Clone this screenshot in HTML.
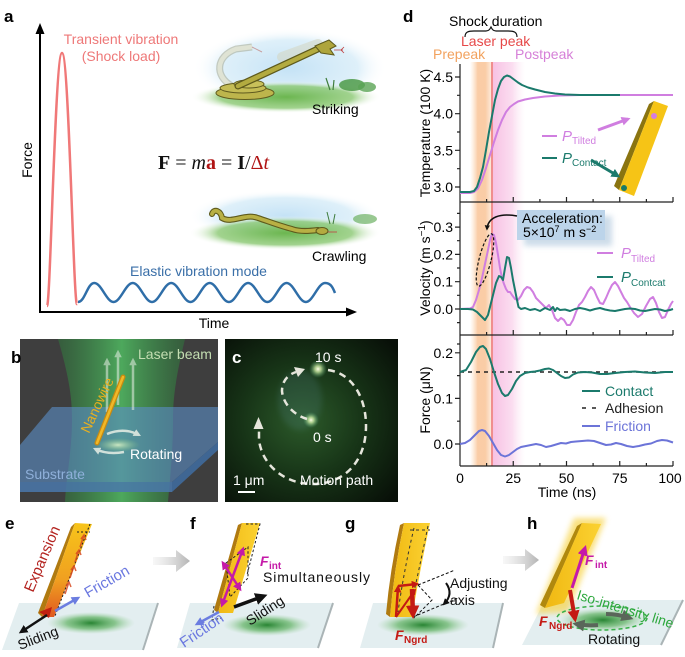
<!DOCTYPE html>
<html><head><meta charset="utf-8">
<style>
html,body{margin:0;padding:0;background:#fff;}
svg{display:block;}
text{font-family:"Liberation Sans",Arial,sans-serif;}
</style></head><body>
<svg width="685" height="657" viewBox="0 0 685 657" xmlns="http://www.w3.org/2000/svg">
<defs>
<marker id="mK" viewBox="0 0 10 10" refX="7" refY="5" markerWidth="3.5" markerHeight="3.5" orient="auto-start-reverse"><path d="M0,0 L10,5 L0,10 z" fill="#111"/></marker>
<marker id="mB" viewBox="0 0 10 10" refX="7" refY="5" markerWidth="3.5" markerHeight="3.5" orient="auto-start-reverse"><path d="M0,0 L10,5 L0,10 z" fill="#6b7de0"/></marker>
<marker id="mM" viewBox="0 0 10 10" refX="7" refY="5" markerWidth="3.5" markerHeight="3.5" orient="auto-start-reverse"><path d="M0,0 L10,5 L0,10 z" fill="#c51aa8"/></marker>
<marker id="mR" viewBox="0 0 10 10" refX="7" refY="5" markerWidth="3" markerHeight="3" orient="auto-start-reverse"><path d="M0,0 L10,5 L0,10 z" fill="#c41a14"/></marker>
<marker id="mG" viewBox="0 0 10 10" refX="7" refY="5" markerWidth="3" markerHeight="3" orient="auto-start-reverse"><path d="M0,0 L10,5 L0,10 z" fill="#5a665a"/></marker>
<marker id="mW" viewBox="0 0 10 10" refX="7" refY="5" markerWidth="3" markerHeight="3" orient="auto-start-reverse"><path d="M0,0 L10,5 L0,10 z" fill="#e8efe6"/></marker>
<marker id="mP" viewBox="0 0 10 10" refX="7" refY="5" markerWidth="3" markerHeight="3" orient="auto-start-reverse"><path d="M0,0 L10,5 L0,10 z" fill="#d07ee0"/></marker>
<marker id="mT" viewBox="0 0 10 10" refX="7" refY="5" markerWidth="3" markerHeight="3" orient="auto-start-reverse"><path d="M0,0 L10,5 L0,10 z" fill="#1b7a6c"/></marker>
<radialGradient id="gsh"><stop offset="0" stop-color="#1f7f2a" stop-opacity="0.95"/><stop offset="0.55" stop-color="#4aa84a" stop-opacity="0.6"/><stop offset="1" stop-color="#9ad09a" stop-opacity="0"/></radialGradient>
<radialGradient id="sky"><stop offset="0" stop-color="#c4e2f6" stop-opacity="1"/><stop offset="0.7" stop-color="#d6ecf8" stop-opacity="0.8"/><stop offset="1" stop-color="#ffffff" stop-opacity="0"/></radialGradient>
<radialGradient id="grd"><stop offset="0" stop-color="#6cb650" stop-opacity="1"/><stop offset="0.7" stop-color="#8ac872" stop-opacity="0.8"/><stop offset="1" stop-color="#ffffff" stop-opacity="0"/></radialGradient>
<linearGradient id="orb" x1="0" x2="1" y1="0" y2="0"><stop offset="0" stop-color="#fbd7b4" stop-opacity="0"/><stop offset="0.35" stop-color="#f9c79c" stop-opacity="0.9"/><stop offset="0.7" stop-color="#f9c79c" stop-opacity="0.9"/><stop offset="1" stop-color="#f9c79c" stop-opacity="0.3"/></linearGradient>
<linearGradient id="pkb" x1="0" x2="1" y1="0" y2="0"><stop offset="0" stop-color="#f6b6de" stop-opacity="0.85"/><stop offset="0.6" stop-color="#f8c6e6" stop-opacity="0.6"/><stop offset="1" stop-color="#fbe0f0" stop-opacity="0"/></linearGradient>
<linearGradient id="beam" x1="0" x2="1" y1="0" y2="0"><stop offset="0" stop-color="#2f7a3c" stop-opacity="0.5"/><stop offset="0.5" stop-color="#4fb460" stop-opacity="0.9"/><stop offset="1" stop-color="#2f7a3c" stop-opacity="0.5"/></linearGradient>
<radialGradient id="cbg" cx="0.45" cy="0.5" r="0.7"><stop offset="0" stop-color="#2c5a2a"/><stop offset="0.5" stop-color="#173417"/><stop offset="1" stop-color="#081008"/></radialGradient>
<radialGradient id="spot"><stop offset="0" stop-color="#ffffe8"/><stop offset="0.35" stop-color="#c8e8a0" stop-opacity="0.8"/><stop offset="1" stop-color="#4a9a6a" stop-opacity="0"/></radialGradient>
<radialGradient id="bglow"><stop offset="0" stop-color="#d8f0c8" stop-opacity="0.9"/><stop offset="1" stop-color="#80c080" stop-opacity="0"/></radialGradient>
<linearGradient id="wireE" x1="0" x2="0" y1="0" y2="1"><stop offset="0" stop-color="#f7c41a"/><stop offset="0.6" stop-color="#f0a020"/><stop offset="1" stop-color="#e05a20"/></linearGradient>
<linearGradient id="wireY" x1="0" x2="1" y1="0" y2="0"><stop offset="0" stop-color="#f0b812"/><stop offset="1" stop-color="#fbd232"/></linearGradient>
<linearGradient id="garr" x1="0" x2="1" y1="0" y2="0"><stop offset="0" stop-color="#d8d8d8" stop-opacity="0.2"/><stop offset="1" stop-color="#b4b4b4"/></linearGradient>
<filter id="blur3" x="-50%" y="-50%" width="200%" height="200%"><feGaussianBlur stdDeviation="3"/></filter>
<filter id="blur2" x="-50%" y="-50%" width="200%" height="200%"><feGaussianBlur stdDeviation="1.5"/></filter>
</defs>
<rect width="685" height="657" fill="#fff"/>

<!-- ================= Panel a ================= -->
<text x="4" y="22" font-size="17" font-weight="bold">a</text>
<ellipse cx="290" cy="68" rx="97" ry="40" fill="url(#sky)"/>
<ellipse cx="286" cy="97" rx="95" ry="16" fill="url(#grd)"/>
<ellipse cx="352" cy="85" rx="13" ry="6" fill="#4c9a48" opacity="0.85"/>
<ellipse cx="367" cy="87" rx="9" ry="5" fill="#5aa455" opacity="0.8"/>
<path d="M330 90 L326 78 M333 90 L334 80" stroke="#3f7d3c" stroke-width="1.2"/>
<path d="M282 57 L318 44" stroke="#d4d8c6" stroke-width="10" opacity="0.6" stroke-linecap="round"/>
<path d="M232 86 C 214 76, 216 56, 236 49 L252 47" stroke="#a9ae9a" stroke-width="7" fill="none" opacity="0.6"/>
<path d="M232 86 C 214 76, 216 56, 236 49 L252 47" stroke="#e2e6d6" stroke-width="4.5" fill="none" opacity="0.9"/>
<path d="M252 47 L262 52" stroke="#c8a0a0" stroke-width="1"/>
<ellipse cx="245" cy="93" rx="29" ry="6.5" fill="#bdb54c" stroke="#5f5a1e" stroke-width="1"/>
<ellipse cx="243" cy="88" rx="23" ry="5" fill="#c4bc55" stroke="#5f5a1e" stroke-width="1"/>
<ellipse cx="249" cy="84" rx="15" ry="4" fill="#c8c05a" stroke="#5f5a1e" stroke-width="1"/>
<path d="M238 86 L320 48" stroke="#5e5a1c" stroke-width="7" stroke-linecap="round"/>
<path d="M238 86 L320 48" stroke="#b3ab40" stroke-width="4.5" stroke-linecap="round"/>
<path d="M315 46 L329 40 L336 46 L330 49 L334 55 L321 53 Z" fill="#aea53c" stroke="#5e5a1c" stroke-width="1"/>
<path d="M334 50 L343 50 M341 50 L344 47 M341 50 L344 53" stroke="#c04040" stroke-width="0.8" fill="none"/>
<text x="312" y="114" font-size="14">Striking</text>
<ellipse cx="285" cy="216" rx="96" ry="26" fill="url(#sky)"/>
<ellipse cx="285" cy="233" rx="96" ry="17" fill="url(#grd)"/>
<ellipse cx="365" cy="219" rx="12" ry="5" fill="#6cb062" opacity="0.7"/>
<path d="M330 224 L327 212 M333 224 L335 214" stroke="#3f7d3c" stroke-width="1"/>
<path d="M212 214 C 214 208, 221 211, 222 218 C 232 224, 245 213, 258 218 C 270 222, 280 226, 292 229 C 300 232, 310 231, 318 230" stroke="#5e5a1c" stroke-width="6" fill="none" stroke-linecap="round"/>
<path d="M212 214 C 214 208, 221 211, 222 218 C 232 224, 245 213, 258 218 C 270 222, 280 226, 292 229 C 300 232, 310 231, 318 230" stroke="#b8b044" stroke-width="3.8" fill="none" stroke-linecap="round"/>
<ellipse cx="322" cy="231" rx="6" ry="3.5" fill="#b3ab40" stroke="#5e5a1c" stroke-width="1"/>
<path d="M328 232 L337 232" stroke="#c04040" stroke-width="0.8"/>
<text x="312" y="261" font-size="14">Crawling</text>
<text x="158" y="169" font-size="20" style="font-family:'Liberation Serif','DejaVu Serif',serif" fill="#111"><tspan font-weight="bold">F</tspan> = <tspan font-style="italic">m</tspan><tspan font-weight="bold" fill="#b01414">a</tspan> = <tspan font-weight="bold">I</tspan>/<tspan fill="#b01414">Δ</tspan><tspan font-style="italic" fill="#b01414">t</tspan></text>
<path d="M40 312 V30" stroke="#000" stroke-width="2"/>
<path d="M35.5 34 L40 23 L44.5 34 Z" fill="#000"/>
<path d="M39 312 H350" stroke="#000" stroke-width="2"/>
<path d="M346 307.5 L357 312 L346 316.5 Z" fill="#000"/>
<text transform="translate(32,160) rotate(-90)" text-anchor="middle" font-size="14">Force</text>
<text x="214" y="328" text-anchor="middle" font-size="14">Time</text>
<path d="M47 306 C 50.5 306, 55 53, 62 53 C 69 53, 73.5 306, 77 304" stroke="#f07878" stroke-width="2.5" fill="none"/>
<path d="M78 302 C 85 302, 87.3 283, 94.3 283 S 106.53 302, 113.53 302 S 125.76 283, 132.76 283 S 144.99 302, 151.99 302 S 164.22 283, 171.22 283 S 183.45 302, 190.45 302 S 202.68 283, 209.68 283 S 221.91 302, 228.91 302 S 241.14 283, 248.14 283 S 260.37 302, 267.37 302 S 279.6 283, 286.6 283 S 298.83 302, 305.83 302 S 318.06 283, 325.06 283 C 331 283, 333 288, 335 293" stroke="#2f6ea8" stroke-width="2.5" fill="none"/>
<text x="121" y="44" text-anchor="middle" font-size="14" fill="#ee7878">Transient vibration</text>
<text x="121" y="61" text-anchor="middle" font-size="14" fill="#ee7878">(Shock load)</text>
<text x="130" y="276" font-size="14" fill="#3a6fa8">Elastic vibration mode</text>

<!-- ================= Panel b ================= -->
<rect x="20" y="339" width="198" height="163" fill="#3e3e3e"/>
<path d="M58 339 C 70 380, 72 400, 72 420 C 72 450, 66 480, 65 502 L168 502 C 170 480, 173 450, 173 420 C 173 400, 175 380, 185 339 Z" fill="url(#beam)"/>
<polygon points="52,407 218,407 218,442 172,482 20,482 20,445" fill="#5b8cc4" opacity="0.62"/>
<polygon points="20,482 172,482 172,492 20,492" fill="#4a78ac" opacity="0.85"/>
<polygon points="172,482 218,442 218,450 172,492" fill="#3f6a9c" opacity="0.9"/>
<ellipse cx="118" cy="445" rx="22" ry="7" fill="url(#bglow)"/>
<g stroke="#e8efe6" stroke-width="2.5" opacity="0.55" fill="none">
<path d="M107 412 V360" marker-end="url(#mW)"/>
<path d="M118 405 V352" marker-end="url(#mW)"/>
<path d="M133 410 V360" marker-end="url(#mW)"/>
</g>
<path d="M123 377 L97 443" stroke="#c88a10" stroke-width="5" stroke-linecap="round"/>
<path d="M123 377 L97 443" stroke="#f0b828" stroke-width="2.5" stroke-linecap="round"/>
<path d="M107 434 Q 124 427 139 435" stroke="#e8efe6" stroke-width="2.5" fill="none" opacity="0.85" marker-end="url(#mW)"/>
<path d="M124 452 Q 108 455 95 449" stroke="#e8efe6" stroke-width="2.5" fill="none" opacity="0.85" marker-end="url(#mW)"/>
<text x="11" y="363" font-size="17" font-weight="bold">b</text>
<text x="138" y="359" font-size="14" fill="#c4deb2">Laser beam</text>
<text transform="translate(89,434) rotate(-65)" font-size="14" fill="#eab020">Nanowire</text>
<text x="130" y="459" font-size="14" fill="#ffffff">Rotating</text>
<text x="25" y="479" font-size="14" fill="#8fb0da">Substrate</text>

<!-- ================= Panel c ================= -->
<rect x="225" y="339" width="173" height="163" fill="url(#cbg)"/>
<ellipse cx="300" cy="400" rx="22" ry="30" fill="#5a8a9a" opacity="0.18" filter="url(#blur3)"/>
<circle cx="318" cy="369" r="9" fill="url(#spot)"/>
<circle cx="311" cy="420" r="8" fill="url(#spot)"/>
<g stroke="#e6e6dc" stroke-width="2.5" fill="none" stroke-dasharray="7 5">
<path d="M307 419 C 294 415, 283 404, 282 391 C 282 382, 287 375, 296 372"/>
<path d="M328 370 C 351 373, 366 396, 366 426 C 366 461, 345 483, 315 484 C 285 485, 262 465, 259 440 L 259 430"/>
</g>
<path d="M294 367 L305 369 L298 377 Z" fill="#e6e6dc"/>
<path d="M253.5 429 L258.5 417 L263.5 429 Z" fill="#e6e6dc"/>
<text x="232" y="363" font-size="17" font-weight="bold" fill="#fff">c</text>
<text x="315" y="362" font-size="14" fill="#fff">10 s</text>
<text x="313" y="442" font-size="14" fill="#fff">0 s</text>
<text x="233" y="485" font-size="14" fill="#fff">1 μm</text>
<path d="M238 492 H255" stroke="#fff" stroke-width="2"/>
<text x="300" y="485" font-size="14" fill="#fff">Motion path</text>

<!-- ================= Panel d ================= -->
<text x="403" y="22" font-size="17" font-weight="bold">d</text>
<rect x="470" y="62" width="22" height="404" fill="url(#orb)"/>
<rect x="493" y="62" width="32" height="404" fill="url(#pkb)"/>
<path d="M492 62 V466" stroke="#f08e8e" stroke-width="2"/>
<text x="449" y="26" font-size="14">Shock duration</text>
<path d="M465 37 C 465 32, 468 31, 474 31 L486 31 C 489 31, 490 29, 491 27 C 492 29, 493 31, 496 31 L508 31 C 514 31, 517 32, 517 37" stroke="#111" stroke-width="1.2" fill="none"/>
<text x="461" y="46" font-size="14" fill="#e64848">Laser peak</text>
<text x="433" y="59" font-size="14" fill="#f2a25e">Prepeak</text>
<text x="515" y="59" font-size="14" fill="#d680d8">Postpeak</text>

<g stroke="#222" stroke-width="1.2" fill="none">
<path d="M460 64 V466"/>
<path d="M460 202 H673 M460 335 H673 M460 466 H673"/>
<path d="M513.25 202 v-5 M566.5 202 v-5 M619.75 202 v-5 M673 202 v-5 M486.6 202 v-3 M539.9 202 v-3 M593.1 202 v-3 M646.4 202 v-3"/>
<path d="M513.25 335 v-5 M566.5 335 v-5 M619.75 335 v-5 M673 335 v-5 M486.6 335 v-3 M539.9 335 v-3 M593.1 335 v-3 M646.4 335 v-3"/>
<path d="M513.25 466 v-5 M566.5 466 v-5 M619.75 466 v-5 M673 466 v-5 M486.6 466 v-3 M539.9 466 v-3 M593.1 466 v-3 M646.4 466 v-3"/>
<path d="M455 77 h5 M455 113.7 h5 M455 150.3 h5 M455 187 h5 M457 95.3 h3 M457 132 h3 M457 168.7 h3"/>
<path d="M455 309 h5 M455 281.7 h5 M455 254.4 h5 M455 227.1 h5 M457 322.6 h3 M457 295.3 h3 M457 268 h3 M457 240.7 h3 M457 213.4 h3"/>
<path d="M455 444 h5 M455 398.4 h5 M455 352.8 h5 M457 421.2 h3 M457 375.6 h3 M457 344 h3"/>
</g>
<g font-size="14" text-anchor="end">
<text x="453" y="82">4.5</text><text x="453" y="118.7">4.0</text><text x="453" y="155.3">3.5</text><text x="453" y="192">3.0</text>
<text x="453" y="314">0.0</text><text x="453" y="286.7">0.1</text><text x="453" y="259.4">0.2</text><text x="453" y="232.1">0.3</text>
<text x="453" y="449">0.0</text><text x="453" y="403.4">0.1</text><text x="453" y="357.8">0.2</text>
</g>
<g font-size="14" text-anchor="middle">
<text x="460" y="483">0</text><text x="513.25" y="483">25</text><text x="566.5" y="483">50</text><text x="619.75" y="483">75</text><text x="670" y="483">100</text>
<text x="567" y="497">Time (ns)</text>
</g>
<text transform="translate(430,133) rotate(-90)" text-anchor="middle" font-size="14">Temperature (100 K)</text>
<text transform="translate(430,268) rotate(-90)" text-anchor="middle" font-size="14">Velocity (m s<tspan dy="-5" font-size="10">−1</tspan><tspan dy="5">)</tspan></text>
<text transform="translate(430,400) rotate(-90)" text-anchor="middle" font-size="14">Force (μN)</text>

<path d="M460 193 L470 193 L474 192 L478 188.5 L482 180 L486 168 L490 155 L494 142 L498 130 L502 120 L506 112 L510 107 L514 104 L518 101.5 L525 99.5 L533 98 L545 96.5 L560 95.5 L580 95 L673 95" stroke="#d07ee0" stroke-width="2" fill="none" stroke-linejoin="round"/>
<path d="M460 192 L470 192 L474 191 L477 187 L480 178 L483 167 L486 150 L489 132 L492 116 L495 100 L498 89 L501 81 L504 77 L507 75.5 L510 76.5 L514 79.5 L518 82.5 L522 85 L528 87.5 L535 89.5 L545 92 L555 93.5 L565 94.5 L580 95 L620 95" stroke="#1b7a6c" stroke-width="2" fill="none" stroke-linejoin="round"/>
<polygon points="649,104 654,101 619,190 614,186" fill="#8a7410"/>
<polygon points="654,101 668,106 634,196 619,190" fill="#f6c416"/>
<circle cx="654" cy="116" r="3" fill="#d47ee0"/>
<circle cx="624" cy="188" r="3" fill="#1b7a66"/>
<path d="M598 130 L628 119" stroke="#d07ee0" stroke-width="3" marker-end="url(#mP)"/>
<path d="M591 160 L618 176" stroke="#1b7a6c" stroke-width="3" marker-end="url(#mT)"/>
<path d="M542 136 H557" stroke="#d07ee0" stroke-width="2"/>
<text x="562" y="141" font-size="15" font-style="italic" fill="#d07ee0">P</text><text x="572" y="144" font-size="10" fill="#d07ee0">Tilted</text>
<path d="M542 158 H557" stroke="#1b7a6c" stroke-width="2"/>
<text x="562" y="163" font-size="15" font-style="italic" fill="#1b7a6c">P</text><text x="572" y="166" font-size="10" fill="#1b7a6c">Contact</text>

<path d="M460 309 L470 308.5 L473 307 L476 300 L479 290 L482 278 L485 264 L488 250 L490 240 L492 234 L494 235 L496 243 L498 255 L500 268 L502 278 L504 284 L506 289 L508 292 L510 292 L512 295 L515 299 L518 300 L521 296 L524 290 L527 287 L530 288 L533 292 L536 298 L540 302 L543 305 L546 308 L549 305 L552 310 L555 318 L558 321 L561 318 L564 320 L567 325 L570 325 L573 320 L576 312 L579 305 L582 302 L585 297 L588 291 L591 287 L594 290 L597 297 L600 303 L603 304 L606 298 L609 291 L612 285 L615 282 L618 286 L621 292 L624 298 L627 302 L630 307 L634 313 L638 317 L642 314 L646 306 L650 299 L653 297 L656 303 L659 312 L662 318 L665 317 L668 310 L671 304 L673 301" stroke="#d07ee0" stroke-width="2" fill="none" stroke-linejoin="round"/>
<path d="M460 309 L468 309 L473 309.5 L477 312 L481 316 L485 320 L488 315 L490 307 L493 295 L496 283 L499 276 L501 277 L503 280 L505 268 L507 257 L509 258 L511 268 L513 280 L515 290 L517 300 L518.5 307 L521 309 L525 308 L530 310 L535 309 L540 311 L545 308 L550 310 L553 307 L555 311 L557 308 L560 310 L565 309.5 L570 311 L575 309 L580 308 L585 309 L590 310.5 L595 309 L600 308 L605 309.5 L610 310.5 L615 311 L620 310 L625 309 L630 308.5 L635 309 L640 310.5 L645 311 L650 310 L655 309 L660 309.5 L665 311 L670 310 L673 309" stroke="#1b7a6c" stroke-width="2" fill="none" stroke-linejoin="round"/>
<ellipse cx="485" cy="260" rx="6" ry="27" transform="rotate(14 485 260)" stroke="#111" stroke-width="1.2" stroke-dasharray="3 2" fill="none"/>
<rect x="524" y="216" width="88" height="30" fill="#b8cde0" opacity="0.7" filter="url(#blur3)"/>
<rect x="517" y="210" width="88" height="30" fill="#bcd4ea"/>
<text x="522" y="223" font-size="14">Acceleration:</text>
<text x="523" y="237" font-size="14">5×10<tspan dy="-5" font-size="9">7</tspan><tspan dy="5"> m s</tspan><tspan dy="-5" font-size="9">−2</tspan></text>
<path d="M517 216 C 500 213, 488 217, 487 229" stroke="#111" stroke-width="1.5" fill="none" marker-end="url(#mK)"/>
<path d="M597 253 H613" stroke="#d07ee0" stroke-width="2"/>
<text x="621" y="258" font-size="15" font-style="italic" fill="#d07ee0">P</text><text x="631" y="262" font-size="10" fill="#d07ee0">Tilted</text>
<path d="M597 277 H613" stroke="#1b7a6c" stroke-width="2"/>
<text x="621" y="282" font-size="15" font-style="italic" fill="#1b7a6c">P</text><text x="631" y="286" font-size="10" fill="#1b7a6c">Contcat</text>

<path d="M460 372 H673" stroke="#222" stroke-width="1.5" stroke-dasharray="4 4"/>
<path d="M460 372 L466 370 L471 362 L476 352 L480 347 L483 346 L486 349 L490 359 L494 372 L498 384 L502 393 L505 396 L508 395 L512 389 L516 381 L520 376 L525 373 L530 372 L535 371.5 L540 370.5 L545 369 L549 368.5 L553 370 L557 373 L561 376 L565 378 L569 377.5 L573 374.5 L578 372.5 L585 372 L592 372.5 L600 374 L607 374 L615 373 L625 372 L635 371.5 L645 372.5 L655 373 L665 372 L673 372" stroke="#1b7a6c" stroke-width="2" fill="none" stroke-linejoin="round"/>
<path d="M460 444 L465 443 L470 440 L475 435 L479 431 L482 430 L485 431 L489 436 L493 443 L497 450 L501 455 L505 456.5 L509 455 L513 452 L517 449 L521 447 L526 446 L531 445 L536 444 L541 445 L546 447 L551 446 L556 444.5 L561 443 L566 443.5 L571 442 L576 441.5 L582 441 L588 440.5 L594 441 L600 443 L606 445 L611 444.5 L616 443 L621 444 L627 446 L633 447 L639 446 L645 444.5 L651 443.5 L657 441 L662 440 L667 440.5 L673 442.5" stroke="#6c74d8" stroke-width="2" fill="none" stroke-linejoin="round"/>
<path d="M582 391 H600" stroke="#1b7a6c" stroke-width="2"/>
<text x="605" y="396" font-size="14" fill="#1b7a6c">Contact</text>
<path d="M582 408 H600" stroke="#222" stroke-width="1.5" stroke-dasharray="4 6"/>
<text x="605" y="413" font-size="14" fill="#222">Adhesion</text>
<path d="M582 426 H600" stroke="#6c74d8" stroke-width="2"/>
<text x="605" y="431" font-size="14" fill="#6c74d8">Friction</text>

<!-- ================= Bottom panels ================= -->
<!-- e -->
<text x="5" y="529" font-size="17" font-weight="bold">e</text>
<polygon points="19,603 158,603 143,650 2,650" fill="#e3eef0"/>
<path d="M158 603 L143 650" stroke="#aab4b6" stroke-width="2"/>
<ellipse cx="91" cy="623" rx="44" ry="11" fill="url(#gsh)"/>
<polygon points="71,527 75,523 42,617 38,613" fill="#b07a10"/>
<polygon points="75,523 92,524 54,617 42,617" fill="url(#wireE)"/>
<path d="M77 532 H90 M90 524 L55 616" stroke="#222" stroke-width="1" stroke-dasharray="2 2" fill="none"/>
<g stroke="#d84a20" stroke-width="1.5" fill="none" opacity="0.85">
<path d="M80 547 L84 535 M81 539 L84 535 L86 540"/>
<path d="M75 562 L79 550 M76 554 L79 550 L81 555"/>
<path d="M70 578 L74 566 M71 570 L74 566 L76 571"/>
<path d="M65 594 L69 582 M66 586 L69 582 L71 587"/>
</g>
<polygon points="39,612 52,607 49,618" fill="#c02010"/>
<path d="M55 611 L78 598" stroke="#6b7de0" stroke-width="2.5" marker-end="url(#mB)"/>
<path d="M47 615 L21 632" stroke="#111" stroke-width="2.5" marker-end="url(#mK)"/>
<text transform="translate(33,593) rotate(-67)" font-size="15" fill="#b42420">Expansion</text>
<text transform="translate(88,598) rotate(-30)" font-size="15" fill="#6b78e0">Friction</text>
<text transform="translate(20,650) rotate(-21)" font-size="14" fill="#111">Sliding</text>
<polygon points="153,557 176,557 176,550 190,561 176,572 176,565 153,565" fill="url(#garr)"/>

<!-- f -->
<text x="190" y="529" font-size="17" font-weight="bold">f</text>
<polygon points="190,603 333,603 318,648 177,648" fill="#e3eef0"/>
<path d="M333 603 L318 648" stroke="#aab4b6" stroke-width="2"/>
<ellipse cx="267" cy="625" rx="44" ry="11" fill="url(#gsh)"/>
<polygon points="238,525 242,523 218,613 214,610" fill="#b07a10"/>
<polygon points="242,523 260,523 233,613 218,613" fill="url(#wireY)"/>
<path d="M246 524 H260 L247 575 M226 563 L248 547 L248 578 L230 597 Z M214 606 L212 620 L222 618" stroke="#222" stroke-width="1" stroke-dasharray="2.5 2" fill="none"/>
<path d="M222 605 L243 549" stroke="#c51aa8" stroke-width="2.5" marker-start="url(#mM)" marker-end="url(#mM)"/>
<path d="M223 563 L240 589" stroke="#c51aa8" stroke-width="2.5" marker-start="url(#mM)" marker-end="url(#mM)"/>
<path d="M219 612 L197 624" stroke="#6b7de0" stroke-width="2.5" marker-end="url(#mB)"/>
<path d="M234 607 L264 596" stroke="#111" stroke-width="3.5" marker-end="url(#mK)"/>
<text x="260" y="566" font-size="14" font-style="italic" font-weight="bold" fill="#c51aa8">F</text>
<text x="269" y="569" font-size="10" font-weight="bold" fill="#c51aa8">int</text>
<text x="263" y="582" font-size="14" textLength="107" fill="#111">Simultaneously</text>
<text transform="translate(250,626) rotate(-33)" font-size="14" fill="#111">Sliding</text>
<text transform="translate(184,648) rotate(-34)" font-size="15" fill="#6b78e0">Friction</text>

<!-- g -->
<text x="345" y="529" font-size="17" font-weight="bold">g</text>
<polygon points="373,603 503,603 493,648 360,648" fill="#e3eef0"/>
<path d="M503 603 L493 648" stroke="#aab4b6" stroke-width="2"/>
<ellipse cx="423" cy="625" rx="46" ry="11" fill="url(#gsh)"/>
<path d="M400 525 Q 390 570 386 614 L390 617 Q 394 570 404 523 Z" fill="#b07a10"/>
<path d="M404 523 L430 523 Q 420 570 412 617 L390 617 Q 394 570 404 523 Z" fill="url(#wireY)"/>
<path d="M414 528 Q 404 570 398 612 M428 526 Q 419 570 410 610 M410 530 H430" stroke="#333" stroke-width="1" stroke-dasharray="3 3" fill="none"/>
<path d="M418 585 L432 600 L414 618 M418 585 L455 570 M413 617 L458 598" stroke="#111" stroke-width="1" stroke-dasharray="3 2" fill="none"/>
<path d="M396 617 L398 587" stroke="#c41a14" stroke-width="2.5" marker-end="url(#mR)"/>
<path d="M398 586 L417 584" stroke="#c41a14" stroke-width="2.5" marker-end="url(#mR)"/>
<path d="M396 617 L415 590" stroke="#c41a14" stroke-width="2" marker-end="url(#mR)"/>
<path d="M412 589 L413 615" stroke="#c41a14" stroke-width="4.5" marker-end="url(#mR)"/>
<path d="M446 583 Q 454 594 444 604" stroke="#111" stroke-width="2" fill="none" marker-end="url(#mK)"/>
<text x="395" y="640" font-size="14" font-style="italic" font-weight="bold" fill="#c41a14">F</text>
<text x="404" y="643" font-size="10" font-weight="bold" fill="#c41a14">Ngrd</text>
<text x="450" y="588" font-size="14" fill="#111">Adjusting</text>
<text x="450" y="605" font-size="14" fill="#111">axis</text>
<polygon points="503,556 525,556 525,549 539,560 525,571 525,564 503,564" fill="url(#garr)"/>

<!-- h -->
<text x="527" y="529" font-size="17" font-weight="bold">h</text>
<polygon points="545,600 683,600 661,645 522,645" fill="#e3eef0"/>
<path d="M683 600 L661 645" stroke="#aab4b6" stroke-width="2"/>
<ellipse cx="603" cy="620" rx="44" ry="12" fill="url(#gsh)"/>
<polygon points="574,518 606,518 568,612 536,614" fill="#f8d44a" opacity="0.7" filter="url(#blur3)"/>
<polygon points="577,526 582,523 545,608 540,605" fill="#b0880e"/>
<polygon points="582,523 601,524 564,603 545,608" fill="url(#wireY)"/>
<ellipse cx="602" cy="618" rx="45" ry="12" stroke="#38b048" stroke-width="1.5" stroke-dasharray="4 3" fill="none"/>
<path d="M606 614 Q 618 614 630 618" stroke="#5a665a" stroke-width="4" fill="none" marker-end="url(#mG)"/>
<path d="M598 625 Q 587 626 576 624" stroke="#5a665a" stroke-width="4" fill="none" marker-end="url(#mG)"/>
<path d="M572 588 L585 548" stroke="#c51aa8" stroke-width="3" marker-end="url(#mM)"/>
<path d="M570 590 L575 619" stroke="#c41a14" stroke-width="4" marker-end="url(#mR)"/>
<text x="585" y="565" font-size="14" font-style="italic" font-weight="bold" fill="#c51aa8">F</text>
<text x="595" y="568" font-size="10" font-weight="bold" fill="#c51aa8">int</text>
<text x="539" y="626" font-size="14" font-style="italic" font-weight="bold" fill="#c41a14">F</text>
<text x="549" y="629" font-size="10" font-weight="bold" fill="#c41a14">Ngrd</text>
<text transform="translate(576,599) rotate(17)" font-size="14" fill="#2ea83e">Iso-intensity line</text>
<text x="588" y="644" font-size="14" fill="#111">Rotating</text>
</svg>
</body></html>
